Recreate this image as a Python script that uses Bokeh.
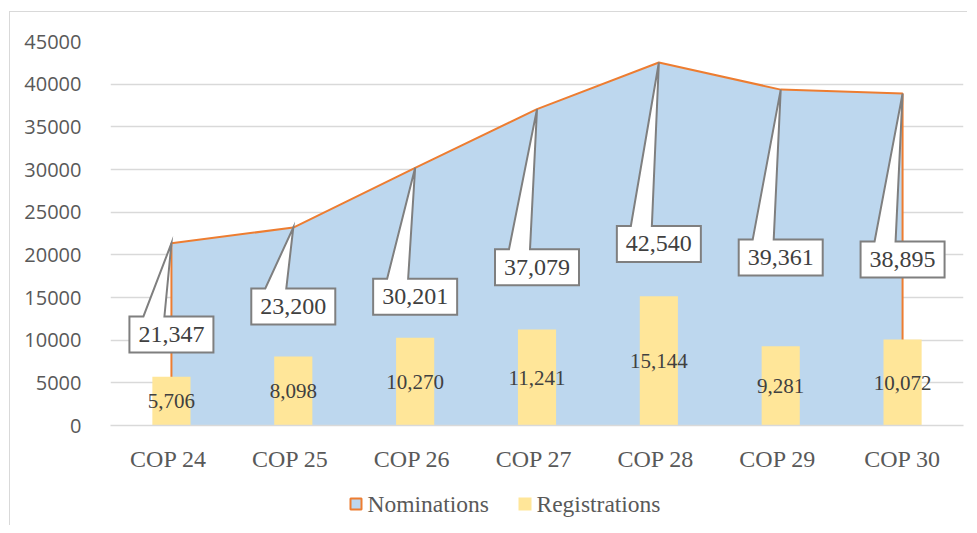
from bokeh.plotting import figure
from bokeh.layouts import column
from bokeh.models import Range1d, FixedTicker
from bokeh.embed import file_html
from bokeh.resources import INLINE
from bokeh.core.properties import value

# ---- data ----
categories = ["COP  24", "COP  25", "COP  26", "COP  27", "COP  28", "COP  29", "COP 30"]
nominations = [21347, 23200, 30201, 37079, 42540, 39361, 38895]
registrations = [5706, 8098, 10270, 11241, 15144, 9281, 10072]
y_ticks = [0, 5000, 10000, 15000, 20000, 25000, 30000, 35000, 40000, 45000]
series_names = ["Nominations", "Registrations"]

# ---- layout constants ----
FRAME_W, FRAME_H = 853, 384
BORDER_L, BORDER_T, BORDER_R, BORDER_B = 100, 29, 4, 50
N = len(categories)
YMAX = y_ticks[-1]
ux = N / FRAME_W        # data units per pixel (x)
uy = YMAX / FRAME_H     # data units per pixel (y)
label_shift_px = [0, 20, 0, 0, 0, 0, 0]   # manual vertical nudges of callouts
LEG_H = 50
LEG_SWATCH_LEFT = [239, 408]   # px from plot frame's left edge
LEG_SWATCH_Y = 21.5            # px from legend strip bottom
SWATCH = 13
LEG_STANDOFF = 5

BLUE = "#BDD7EE"
ORANGE = "#ED7D31"
YELLOW = "#FFE699"
GRAY_TXT = "#595959"
DARK_TXT = "#404040"
SERIF = "Liberation Serif"

xs = [i + 0.5 for i in range(N)]

p = figure(frame_width=FRAME_W, frame_height=FRAME_H,
           x_range=Range1d(0, N), y_range=Range1d(0, YMAX),
           output_backend="svg", toolbar_location=None,
           min_border_left=BORDER_L, min_border_top=BORDER_T,
           min_border_bottom=BORDER_B, min_border_right=BORDER_R)
p.outline_line_color = None
p.background_fill_color = "white"
p.border_fill_color = "white"

# area (nominations)
p.varea(x=xs, y1=[0] * N, y2=nominations, fill_color=BLUE)
p.line([xs[0]] + xs + [xs[-1]], [0] + nominations + [0],
       line_color=ORANGE, line_width=2)

# bars (registrations)
p.vbar(x=xs, width=0.313, top=registrations, bottom=0,
       fill_color=YELLOW, line_color=None)
p.text(x=xs, y=[r / 2 for r in registrations], text=[f"{r:,}" for r in registrations],
       text_align="center", text_baseline="middle",
       text_font=value(SERIF), text_font_size="21px", text_color=DARK_TXT)

# callouts for nominations
hw, hh = 42 * ux, 18 * uy
b1, b2 = -28 * ux, -7 * ux
cxs, cys, pxs, pys = [], [], [], []
for i, v in enumerate(nominations):
    cx = xs[i]
    cy = v / 2 + label_shift_px[i] * uy
    cxs.append(cx)
    cys.append(cy)
    pxs.append([cx - hw, cx - hw, cx + b1, cx, cx + b2, cx + hw, cx + hw])
    pys.append([cy - hh, cy + hh, cy + hh, v, cy + hh, cy + hh, cy - hh])
p.patches(pxs, pys, fill_color="white", line_color="#7F7F7F", line_width=2,
          line_join="miter")
p.text(x=cxs, y=cys, text=[f"{v:,}" for v in nominations],
       text_align="center", text_baseline="middle",
       text_font=value(SERIF), text_font_size="24px", text_color=DARK_TXT)

# axes
p.xaxis.ticker = FixedTicker(ticks=xs)
p.xaxis.major_label_overrides = {x: c for x, c in zip(xs, categories)}
p.xaxis.axis_line_color = "#d9d9d9"
p.xaxis.axis_line_width = 1.5
p.xaxis.major_tick_line_color = None
p.xaxis.minor_tick_line_color = None
p.xaxis.major_label_text_font = SERIF
p.xaxis.major_label_text_font_size = "24px"
p.xaxis.major_label_text_color = GRAY_TXT
p.xaxis.major_label_standoff = 14

p.yaxis.ticker = FixedTicker(ticks=y_ticks)
p.yaxis.axis_line_color = None
p.yaxis.major_tick_line_color = None
p.yaxis.minor_tick_line_color = None
p.yaxis.major_label_text_font = "Open Sans"
p.yaxis.major_label_text_font_size = "20px"
p.yaxis.major_label_text_color = GRAY_TXT
p.yaxis.major_label_standoff = 23

p.xgrid.grid_line_color = None
p.ygrid.ticker = FixedTicker(ticks=y_ticks)
p.ygrid.grid_line_color = "#d9d9d9"
p.ygrid.grid_line_width = 1.3

# legend strip (separate figure in pixel coordinates, frame aligned with plot)
leg = figure(frame_width=FRAME_W, frame_height=LEG_H,
             x_range=Range1d(0, FRAME_W), y_range=Range1d(0, LEG_H),
             output_backend="svg", toolbar_location=None,
             min_border_left=BORDER_L, min_border_right=BORDER_R,
             min_border_top=0, min_border_bottom=0,
             x_axis_location=None, y_axis_location=None)
leg.outline_line_color = None
leg.grid.grid_line_color = None
leg.border_fill_color = "white"
sw_x = [l + SWATCH / 2 for l in LEG_SWATCH_LEFT]
leg.rect(x=[sw_x[0]], y=[LEG_SWATCH_Y], width=SWATCH - 2, height=SWATCH - 2,
         fill_color=BLUE, line_color=ORANGE, line_width=2)
leg.rect(x=[sw_x[1]], y=[LEG_SWATCH_Y], width=SWATCH, height=SWATCH,
         fill_color=YELLOW, line_color=None)
leg.text(x=[l + SWATCH + LEG_STANDOFF for l in LEG_SWATCH_LEFT],
         y=[LEG_SWATCH_Y] * 2, text=series_names,
         text_align="left", text_baseline="middle",
         text_font=value(SERIF), text_font_size="23.5px", text_color=GRAY_TXT)

layout = column(p, leg, spacing=0)
layout.styles = {"border-top": "1px solid #d9d9d9", "border-left": "1px solid #d9d9d9",
                 "margin-top": "11px", "margin-left": "9px"}

open("out.html", "w").write(file_html(layout, INLINE))
